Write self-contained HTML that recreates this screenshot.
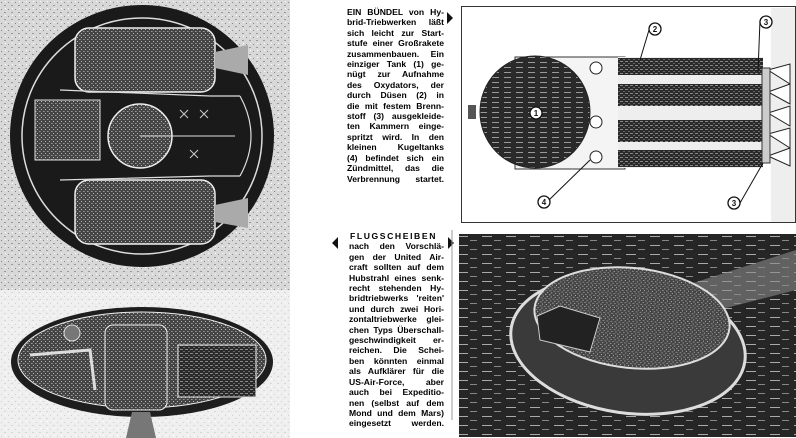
<!DOCTYPE html>
<html><head><meta charset="utf-8"><style>
html,body{margin:0;padding:0;background:#fff;width:796px;height:438px;overflow:hidden;position:relative}
.t{position:absolute;font-family:"Liberation Sans",sans-serif;font-weight:bold;font-size:8.6px;line-height:10.4px;color:#000;text-align:justify;text-align-last:justify;letter-spacing:0}
.t div{white-space:nowrap;text-align-last:justify;text-align:justify}
svg{position:absolute;left:0;top:0}
</style></head><body>
<svg width="796" height="438" viewBox="0 0 796 438">
<defs>
<pattern id="sp" width="7" height="7" patternUnits="userSpaceOnUse"><rect width="7" height="7" fill="#d8d8d8"/><rect x="1" y="2" width="1" height="1" fill="#888"/><rect x="4" y="5" width="2" height="1" fill="#999"/><rect x="5" y="1" width="1" height="1" fill="#fff"/></pattern>
<pattern id="dk" width="5" height="4" patternUnits="userSpaceOnUse"><rect width="5" height="4" fill="#2a2a2a"/><rect x="0" y="1" width="3" height="1" fill="#888"/><rect x="3" y="3" width="2" height="1" fill="#666"/></pattern>
<pattern id="md" width="4" height="4" patternUnits="userSpaceOnUse"><rect width="4" height="4" fill="#444"/><rect x="1" y="1" width="1" height="1" fill="#bbb"/><rect x="3" y="3" width="1" height="1" fill="#999"/><rect x="0" y="3" width="1" height="1" fill="#777"/></pattern>
<pattern id="gr" width="12" height="5" patternUnits="userSpaceOnUse"><rect width="12" height="5" fill="#2a2a2a"/><rect x="0" y="2" width="7" height="1" fill="#999"/></pattern>
<pattern id="ph" width="24" height="9" patternUnits="userSpaceOnUse"><rect width="24" height="9" fill="#262626"/><rect x="2" y="2" width="10" height="1" fill="#aaa"/><rect x="14" y="6" width="7" height="1" fill="#888"/></pattern>
</defs>
<rect x="0" y="0" width="290" height="290" fill="url(#sp)"/>
<rect x="0" y="290" width="290" height="148" fill="url(#sp)" opacity=".4"/>
<!-- top circle -->
<ellipse cx="142" cy="136" rx="132" ry="131" fill="#1a1a1a"/>
<ellipse cx="142" cy="136" rx="120" ry="118" fill="none" stroke="#ddd" stroke-width="1.5"/>
<rect x="75" y="28" width="140" height="64" rx="14" fill="url(#md)" stroke="#eee" stroke-width="1.5"/>
<rect x="75" y="180" width="140" height="64" rx="14" fill="url(#md)" stroke="#eee" stroke-width="1.5"/>
<polygon points="215,52 248,45 248,75 215,68" fill="#aaa"/>
<polygon points="215,205 248,198 248,228 215,222" fill="#aaa"/>
<rect x="35" y="100" width="65" height="60" fill="url(#md)" stroke="#ddd"/>
<circle cx="140" cy="136" r="32" fill="url(#md)" stroke="#eee" stroke-width="1.5"/>
<line x1="140" y1="136" x2="235" y2="136" stroke="#ddd"/>
<path d="M60 90 L210 96 L240 96 M60 180 L210 176 L240 176 M240 96 Q262 136 240 176" stroke="#ddd" fill="none" stroke-width="1.2"/>
<path d="M180 110 l8 8 m0 -8 l-8 8 M200 110 l8 8 m0 -8 l-8 8 M190 150 l8 8 m0 -8 l-8 8" stroke="#ccc"/>
<!-- bottom ellipse -->
<ellipse cx="142" cy="362" rx="131" ry="55" fill="#1e1e1e"/>
<ellipse cx="142" cy="360" rx="124" ry="48" fill="url(#md)" stroke="#eee"/>
<rect x="105" y="325" width="62" height="85" rx="8" fill="url(#md)" stroke="#eee"/>
<rect x="178" y="345" width="78" height="52" fill="url(#dk)" stroke="#eee"/>
<circle cx="72" cy="333" r="8" fill="#777" stroke="#ddd"/>
<path d="M30 355 L90 350 L95 390" stroke="#ddd" fill="none" stroke-width="3"/>
<polygon points="132,412 150,412 156,438 126,438" fill="#777"/>
<!-- top right box -->
<rect x="461.5" y="6.5" width="334" height="216" fill="#fff" stroke="#333"/>
<rect x="771" y="8" width="24" height="214" fill="#eee"/>
<rect x="515" y="57" width="110" height="112" fill="#f4f4f4" stroke="#333"/>
<ellipse cx="535" cy="112" rx="55" ry="56" fill="url(#gr)" stroke="#222"/>
<rect x="468" y="105" width="8" height="14" fill="#555"/>
<circle cx="596" cy="68" r="6" fill="#fff" stroke="#222"/>
<circle cx="596" cy="122" r="6" fill="#fff" stroke="#222"/>
<circle cx="596" cy="157" r="6" fill="#fff" stroke="#222"/>
<rect x="618" y="57" width="145" height="111" fill="#eee"/>
<rect x="618" y="58" width="145" height="17" fill="url(#dk)"/>
<rect x="618" y="84" width="145" height="22" fill="url(#dk)"/>
<rect x="618" y="120" width="145" height="22" fill="url(#dk)"/>
<rect x="618" y="150" width="145" height="17" fill="url(#dk)"/>
<path d="M768 70 L790 64 L790 84 Z M768 92 L790 84 L790 104 Z M768 113 L790 106 L790 126 Z M768 134 L790 128 L790 148 Z M768 156 L790 148 L790 166 Z" fill="#fff" stroke="#222"/>
<rect x="762" y="68" width="8" height="95" fill="#ccc" stroke="#333"/>
<g fill="#fff" stroke="#111" stroke-width="1.3">
<circle cx="536" cy="113" r="6"/><circle cx="655" cy="29" r="6"/><circle cx="766" cy="22" r="6"/><circle cx="544" cy="202" r="6"/><circle cx="734" cy="203" r="6"/>
</g>
<g font-family="Liberation Sans" font-size="8" font-weight="bold" fill="#111" text-anchor="middle">
<text x="536" y="116">1</text><text x="655" y="32">2</text><text x="766" y="25">3</text><text x="544" y="205">4</text><text x="734" y="206">3</text>
</g>
<path d="M649 30 L640 60 M760 20 L758 72 M549 200 L590 160 M740 203 L763 163" stroke="#111" fill="none"/>
<!-- photo -->
<rect x="459" y="234" width="337" height="203" fill="url(#ph)"/>
<path d="M640 300 L796 250 L796 290 L660 325Z" fill="#888" opacity=".6"/>
<ellipse cx="628" cy="345" rx="118" ry="68" transform="rotate(8 628 345)" fill="#3a3a3a" stroke="#ddd" stroke-width="3"/>
<ellipse cx="632" cy="318" rx="98" ry="50" transform="rotate(6 632 318)" fill="url(#md)" stroke="#ddd" stroke-width="2"/>
<polygon points="537,316 560,306 600,318 590,352 540,340" fill="#222" stroke="#ccc"/>
<!-- arrows -->
<polygon points="447,12 453,18 447,24" fill="#111"/>
<polygon points="338,237 332,243 338,249" fill="#111"/>
<polygon points="448,237 454,243 448,249" fill="#111"/>
<line x1="452" y1="230" x2="452" y2="420" stroke="#999"/>
</svg>
<div class="t" style="left:347px;top:7px;width:97px">
<div>EIN BÜNDEL von Hy-</div><div>brid-Triebwerken läßt</div><div>sich leicht zur Start-</div><div>stufe einer Großrakete</div><div>zusammenbauen. Ein</div><div>einziger Tank (1) ge-</div><div>nügt zur Aufnahme</div><div>des Oxydators, der</div><div>durch Düsen (2) in</div><div>die mit festem Brenn-</div><div>stoff (3) ausgekleide-</div><div>ten Kammern einge-</div><div>spritzt wird. In den</div><div>kleinen Kugeltanks</div><div>(4) befindet sich ein</div><div>Zündmittel, das die</div><div>Verbrennung startet.</div>
</div>
<div class="t" style="left:349px;top:231px;width:95px">
<div style="padding-left:1px;letter-spacing:1.6px;text-align-last:left">FLUGSCHEIBEN</div><div>nach den Vorschlä-</div><div>gen der United Air-</div><div>craft sollten auf dem</div><div>Hubstrahl eines senk-</div><div>recht stehenden Hy-</div><div>bridtriebwerks 'reiten'</div><div>und durch zwei Hori-</div><div>zontaltriebwerke glei-</div><div>chen Typs Überschall-</div><div>geschwindigkeit er-</div><div>reichen. Die Schei-</div><div>ben könnten einmal</div><div>als Aufklärer für die</div><div>US-Air-Force, aber</div><div>auch bei Expeditio-</div><div>nen (selbst auf dem</div><div>Mond und dem Mars)</div><div>eingesetzt werden.</div>
</div>
</body></html>
